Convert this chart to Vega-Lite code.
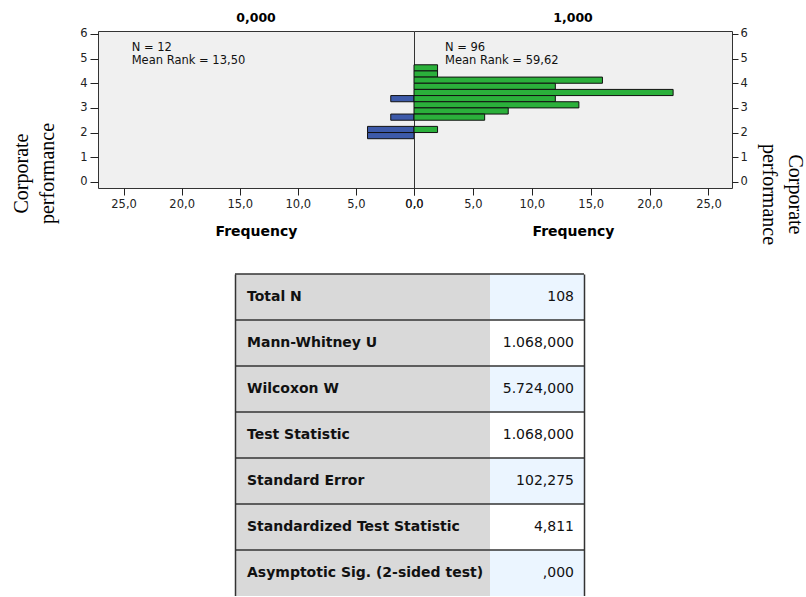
{
  "$schema": "https://vega.github.io/schema/vega-lite/v6.json",
  "padding": {"left": 10, "top": 11, "right": 0, "bottom": 0},
  "background": "white",
  "datasets": {
    "bins": [
      {"group": "0,000", "lo": 3.25, "hi": 3.5, "count": 2},
      {"group": "0,000", "lo": 2.5, "hi": 2.75, "count": 2},
      {"group": "0,000", "lo": 2.0, "hi": 2.25, "count": 4},
      {"group": "0,000", "lo": 1.75, "hi": 2.0, "count": 4},
      {"group": "1,000", "lo": 4.5, "hi": 4.75, "count": 2},
      {"group": "1,000", "lo": 4.25, "hi": 4.5, "count": 2},
      {"group": "1,000", "lo": 4.0, "hi": 4.25, "count": 16},
      {"group": "1,000", "lo": 3.75, "hi": 4.0, "count": 12},
      {"group": "1,000", "lo": 3.5, "hi": 3.75, "count": 22},
      {"group": "1,000", "lo": 3.25, "hi": 3.5, "count": 12},
      {"group": "1,000", "lo": 3.0, "hi": 3.25, "count": 14},
      {"group": "1,000", "lo": 2.75, "hi": 3.0, "count": 8},
      {"group": "1,000", "lo": 2.5, "hi": 2.75, "count": 6},
      {"group": "1,000", "lo": 2.0, "hi": 2.25, "count": 2}
    ],
    "notes": [
      {"group": "0,000", "label": "N = 12\nMean Rank = 13,50"},
      {"group": "1,000", "label": "N = 96\nMean Rank = 59,62"}
    ],
    "stats": [
      {"stat": "Total N", "value": "108"},
      {"stat": "Mann-Whitney U", "value": "1.068,000"},
      {"stat": "Wilcoxon W", "value": "5.724,000"},
      {"stat": "Test Statistic", "value": "1.068,000"},
      {"stat": "Standard Error", "value": "102,275"},
      {"stat": "Standardized Test Statistic", "value": "4,811"},
      {"stat": "Asymptotic Sig. (2-sided test)", "value": ",000"}
    ]
  },
  "vconcat": [
    {
      "hconcat": [
        {
          "width": 316,
          "height": 157,
          "title": "0,000",
          "view": {"fill": "#f0f0f0", "stroke": "#333333"},
          "layer": [
            {
              "data": {"name": "bins"},
              "transform": [{"filter": "datum.group === '0,000'"}],
              "mark": {"type": "rect", "fill": "#3d5aa9", "stroke": "#111111", "strokeWidth": 1},
              "encoding": {
                "x": {
                  "field": "count", "type": "quantitative",
                  "scale": {"domain": [0, 27.2], "reverse": true, "nice": false, "zero": true},
                  "axis": {
                    "values": [0, 5, 10, 15, 20, 25],
                    "labelExpr": "replace(format(datum.value, '.1f'), '.', ',')",
                    "tickSize": 7, "labelPadding": 3,
                    "title": "Frequency", "titleFontSize": 14, "titleFontWeight": "bold",
                    "titleBaseline": "alphabetic", "titleY": 47
                  }
                },
                "x2": {"datum": 0},
                "y": {
                  "field": "lo", "type": "quantitative",
                  "scale": {"domain": [-0.25, 6.12], "nice": false, "zero": false},
                  "axis": {
                    "orient": "left",
                    "values": [0, 1, 2, 3, 4, 5, 6],
                    "format": "d",
                    "tickSize": 8, "labelPadding": 3,
                    "title": ["Corporate", "performance"],
                    "titleFont": "Liberation Serif", "titleFontSize": 20, "titleFontWeight": "normal",
                    "titleLineHeight": 26, "titleAngle": 270,
                    "titleX": -77, "titleY": 142,
                    "titleAlign": "center", "titleBaseline": "middle"
                  }
                },
                "y2": {"field": "hi"}
              }
            },
            {
              "data": {"name": "notes"},
              "transform": [{"filter": "datum.group === '0,000'"}],
              "mark": {"type": "text", "align": "left", "baseline": "top", "lineBreak": "\n", "font": "DejaVu Sans", "fontSize": 11.5, "lineHeight": 13.5, "color": "#111111"},
              "encoding": {
                "x": {
                  "datum": 24.3,
                  "axis": {
                    "values": [0, 5, 10, 15, 20, 25],
                    "labelExpr": "replace(format(datum.value, '.1f'), '.', ',')",
                    "tickSize": 7, "labelPadding": 3,
                    "title": "Frequency", "titleFontSize": 14, "titleFontWeight": "bold",
                    "titleBaseline": "alphabetic", "titleY": 47
                  }
                },
                "y": {
                  "datum": 5.68,
                  "axis": {
                    "orient": "left",
                    "values": [0, 1, 2, 3, 4, 5, 6],
                    "format": "d",
                    "tickSize": 8, "labelPadding": 3,
                    "title": ["Corporate", "performance"],
                    "titleFont": "Liberation Serif", "titleFontSize": 20, "titleFontWeight": "normal",
                    "titleLineHeight": 26, "titleAngle": 270,
                    "titleX": -77, "titleY": 142,
                    "titleAlign": "center", "titleBaseline": "middle"
                  }
                },
                "text": {"field": "label"}
              }
            }
          ]
        },
        {
          "width": 318,
          "height": 157,
          "title": "1,000",
          "view": {"fill": "#f0f0f0", "stroke": "#333333"},
          "layer": [
            {
              "data": {"name": "bins"},
              "transform": [{"filter": "datum.group === '1,000'"}],
              "mark": {"type": "rect", "fill": "#2bb03b", "stroke": "#111111", "strokeWidth": 1},
              "encoding": {
                "x": {
                  "field": "count", "type": "quantitative",
                  "scale": {"domain": [0, 27.0], "nice": false, "zero": true},
                  "axis": {
                    "values": [0, 5, 10, 15, 20, 25],
                    "labelExpr": "replace(format(datum.value, '.1f'), '.', ',')",
                    "tickSize": 7, "labelPadding": 3,
                    "title": "Frequency", "titleFontSize": 14, "titleFontWeight": "bold",
                    "titleBaseline": "alphabetic", "titleY": 47
                  }
                },
                "x2": {"datum": 0},
                "y": {
                  "field": "lo", "type": "quantitative",
                  "scale": {"domain": [-0.25, 6.12], "nice": false, "zero": false},
                  "axis": {
                    "orient": "right",
                    "values": [0, 1, 2, 3, 4, 5, 6],
                    "format": "d",
                    "tickSize": 6, "labelPadding": 2,
                    "title": ["Corporate", "performance"],
                    "titleFont": "Liberation Serif", "titleFontSize": 20, "titleFontWeight": "normal",
                    "titleLineHeight": 26, "titleAngle": 90,
                    "titleX": 62, "titleY": 163,
                    "titleAlign": "center", "titleBaseline": "middle"
                  }
                },
                "y2": {"field": "hi"}
              }
            },
            {
              "data": {"name": "notes"},
              "transform": [{"filter": "datum.group === '1,000'"}],
              "mark": {"type": "text", "align": "left", "baseline": "top", "lineBreak": "\n", "font": "DejaVu Sans", "fontSize": 11.5, "lineHeight": 13.5, "color": "#111111"},
              "encoding": {
                "x": {
                  "datum": 2.63,
                  "axis": {
                    "values": [0, 5, 10, 15, 20, 25],
                    "labelExpr": "replace(format(datum.value, '.1f'), '.', ',')",
                    "tickSize": 7, "labelPadding": 3,
                    "title": "Frequency", "titleFontSize": 14, "titleFontWeight": "bold",
                    "titleBaseline": "alphabetic", "titleY": 47
                  }
                },
                "y": {
                  "datum": 5.68,
                  "axis": {
                    "orient": "right",
                    "values": [0, 1, 2, 3, 4, 5, 6],
                    "format": "d",
                    "tickSize": 6, "labelPadding": 2,
                    "title": ["Corporate", "performance"],
                    "titleFont": "Liberation Serif", "titleFontSize": 20, "titleFontWeight": "normal",
                    "titleLineHeight": 26, "titleAngle": 90,
                    "titleX": 62, "titleY": 163,
                    "titleAlign": "center", "titleBaseline": "middle"
                  }
                },
                "text": {"field": "label"}
              }
            }
          ]
        }
      ],
      "spacing": 0,
      "bounds": "flush"
    },
    {
      "hconcat": [
        {
          "width": 137,
          "height": 322,
          "data": {"values": [{}]},
          "mark": {"type": "rect", "opacity": 0},
          "encoding": {}
        },
        {
          "width": 255,
          "height": 322,
          "data": {"name": "stats"},
          "layer": [
            {
              "mark": {"type": "rect", "fill": "#d9d9d9"},
              "encoding": {
                "y": {
                  "field": "stat", "type": "nominal", "sort": null,
                  "scale": {"paddingInner": 0, "paddingOuter": 0},
                  "axis": {"orient": "left", "labels": false, "ticks": false, "title": null, "domain": true, "domainColor": "#333333", "domainWidth": 1.5}
                }
              }
            },
            {
              "mark": {"type": "rule", "color": "#333333", "strokeWidth": 1.5},
              "encoding": {
                "y": {"field": "stat", "type": "nominal", "sort": null, "bandPosition": 0}
              }
            },
            {
              "mark": {"type": "text", "align": "left", "baseline": "middle", "dx": 12, "font": "DejaVu Sans", "fontSize": 14, "fontWeight": "bold", "color": "#111111"},
              "encoding": {
                "x": {"datum": 0, "type": "quantitative", "scale": {"domain": [0, 1]}, "axis": null},
                "y": {"field": "stat", "type": "nominal", "sort": null},
                "text": {"field": "stat"}
              }
            }
          ]
        },
        {
          "width": 94,
          "height": 322,
          "data": {"name": "stats"},
          "transform": [{"window": [{"op": "row_number", "as": "idx"}]}],
          "layer": [
            {
              "mark": {"type": "rect"},
              "encoding": {
                "y": {
                  "field": "stat", "type": "nominal", "sort": null,
                  "scale": {"paddingInner": 0, "paddingOuter": 0},
                  "axis": {"orient": "right", "labels": false, "ticks": false, "title": null, "domain": true, "domainColor": "#333333", "domainWidth": 1.5}
                },
                "fill": {"condition": {"test": "datum.idx % 2 === 1", "value": "#ebf5ff"}, "value": "#ffffff"}
              }
            },
            {
              "mark": {"type": "rule", "color": "#333333", "strokeWidth": 1.5},
              "encoding": {
                "y": {"field": "stat", "type": "nominal", "sort": null, "bandPosition": 0}
              }
            },
            {
              "mark": {"type": "text", "align": "right", "baseline": "middle", "dx": -10, "font": "DejaVu Sans", "fontSize": 14, "color": "#111111"},
              "encoding": {
                "x": {"datum": 1, "type": "quantitative", "scale": {"domain": [0, 1]}, "axis": null},
                "y": {"field": "stat", "type": "nominal", "sort": null},
                "text": {"field": "value"}
              }
            }
          ]
        }
      ],
      "spacing": 0,
      "bounds": "flush"
    }
  ],
  "spacing": 27,
  "bounds": "full",
  "config": {
    "font": "DejaVu Sans",
    "view": {"stroke": null},
    "axis": {
      "grid": false,
      "domain": false,
      "labelFont": "DejaVu Sans",
      "labelFontSize": 11.5,
      "labelColor": "#222222",
      "tickColor": "#222222",
      "labelFlush": false,
      "labelOverlap": false,
      "titleColor": "#000000",
      "titleFont": "DejaVu Sans"
    },
    "title": {"font": "DejaVu Sans", "fontSize": 12.5, "fontWeight": "bold", "offset": 3, "color": "#000000", "anchor": "middle", "frame": "group"}
  }
}
